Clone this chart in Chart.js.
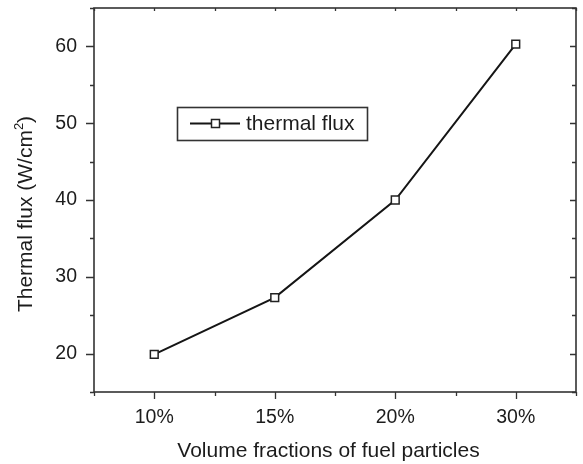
<!DOCTYPE html>
<html>
<head>
<meta charset="utf-8">
<script src="https://cdn.jsdelivr.net/npm/chart.js@4"></script>
<style>
html,body{margin:0;padding:0;background:#fff;}
#wrap{width:583px;height:464px;position:relative;}
</style>
</head>
<body>
<div id="wrap"><canvas id="c" width="583" height="464"></canvas></div>
<script>
const categories = ['10%', '15%', '20%', '30%'];
const thermalFlux = [19.9, 27.3, 40.0, 60.3];
const seriesLabel = 'thermal flux';
const xTitle = 'Volume fractions of fuel particles';
const yTitleMain = 'Thermal flux (W/cm';
const yTitleSup = '2';
const yTitleEnd = ')';
const yMin = 15, yMax = 65, yMinorStep = 5, yMajorStep = 10;

const INK = '#1c1c1c';
const AXIS = '#333333';
const FONT = 'Liberation Sans, Arial, sans-serif';

function zeroPad(s) { s.paddingTop = 0; s.paddingBottom = 0; s.paddingLeft = 0; s.paddingRight = 0; }

const framePlugin = {
  id: 'frame',
  afterDraw(chart) {
    const ctx = chart.ctx;
    const a = chart.chartArea;
    const xs = chart.scales.x, ys = chart.scales.y;
    ctx.save();
    ctx.strokeStyle = AXIS;
    ctx.lineWidth = 1.6;
    ctx.strokeRect(a.left, a.top, a.right - a.left, a.bottom - a.top);
    ctx.lineWidth = 1.3;
    ctx.beginPath();
    for (let v = yMin; v <= yMax + 1e-9; v += yMinorStep) {
      const py = Math.round(ys.getPixelForValue(v)) + 0.5;
      const major = Math.abs((v / yMajorStep) - Math.round(v / yMajorStep)) < 1e-9;
      const lo = major ? 8 : 4;
      const li = major ? 6 : 4;
      ctx.moveTo(a.left, py); ctx.lineTo(a.left - lo, py);
      ctx.moveTo(a.right, py); ctx.lineTo(a.right - li, py);
    }
    const n = categories.length;
    const half = (xs.getPixelForValue(1) - xs.getPixelForValue(0)) / 2;
    for (let i = 0; i < n; i++) {
      const px = Math.round(xs.getPixelForValue(i)) + 0.5;
      ctx.moveTo(px, a.bottom); ctx.lineTo(px, a.bottom + 7);
      ctx.moveTo(px, a.top); ctx.lineTo(px, a.top + 3);
    }
    for (let i = 0; i <= n; i++) {
      const px = Math.round(xs.getPixelForValue(0) - half + 2 * half * i) + 0.5;
      ctx.moveTo(px, a.bottom); ctx.lineTo(px, a.bottom + 4);
      ctx.moveTo(px, a.top); ctx.lineTo(px, a.top + 3);
    }
    ctx.stroke();

    ctx.fillStyle = INK;
    ctx.font = '21px ' + FONT;
    ctx.textBaseline = 'alphabetic';
    ctx.textAlign = 'center';
    ctx.fillText(xTitle, 328.5, 456.5);

    ctx.save();
    ctx.translate(32, 214);
    ctx.rotate(-Math.PI / 2);
    ctx.textAlign = 'left';
    ctx.font = '21px ' + FONT;
    const w1 = ctx.measureText(yTitleMain).width;
    ctx.font = '13px ' + FONT;
    const w2 = ctx.measureText(yTitleSup).width;
    ctx.font = '21px ' + FONT;
    const w3 = ctx.measureText(yTitleEnd).width;
    let x0 = -(w1 + w2 + w3) / 2;
    ctx.fillText(yTitleMain, x0, 0);
    ctx.font = '13px ' + FONT;
    ctx.fillText(yTitleSup, x0 + w1, -9);
    ctx.font = '21px ' + FONT;
    ctx.fillText(yTitleEnd, x0 + w1 + w2, 0);
    ctx.restore();

    const ds = chart.data.datasets[0];
    ctx.lineWidth = 1.6;
    ctx.strokeStyle = AXIS;
    ctx.strokeRect(177.5, 107.5, 190, 33);
    ctx.strokeStyle = ds.borderColor;
    ctx.lineWidth = ds.borderWidth;
    ctx.beginPath();
    ctx.moveTo(190, 123.5); ctx.lineTo(240, 123.5);
    ctx.stroke();
    ctx.fillStyle = '#fff';
    ctx.lineWidth = ds.pointBorderWidth;
    ctx.strokeStyle = ds.pointBorderColor;
    ctx.fillRect(211.5, 119.5, 8, 8);
    ctx.strokeRect(211.5, 119.5, 8, 8);
    ctx.fillStyle = INK;
    ctx.font = '21px ' + FONT;
    ctx.textAlign = 'left';
    ctx.textBaseline = 'middle';
    ctx.fillText(ds.label, 246, 124);
    ctx.restore();
  }
};

new Chart(document.getElementById('c'), {
  type: 'line',
  data: {
    labels: categories,
    datasets: [{
      label: seriesLabel,
      data: thermalFlux,
      borderColor: '#151515',
      borderWidth: 2,
      pointStyle: 'rect',
      pointRadius: 5.5,
      pointHoverRadius: 5.5,
      pointBackgroundColor: '#ffffff',
      pointBorderColor: '#222222',
      pointBorderWidth: 1.5,
      tension: 0,
      clip: false
    }]
  },
  options: {
    responsive: false,
    animation: false,
    events: [],
    layout: { padding: { left: 0, top: 8, right: 4, bottom: 0 } },
    plugins: { legend: { display: false }, tooltip: { enabled: false } },
    scales: {
      x: {
        type: 'category',
        offset: true,
        grid: { display: false, drawTicks: false },
        border: { display: false },
        ticks: { color: INK, font: { family: FONT, size: 19.5 }, padding: 14, maxRotation: 0 },
        afterFit(s) { s.height = 72; zeroPad(s); }
      },
      y: {
        type: 'linear',
        min: yMin, max: yMax,
        grid: { display: false, drawTicks: false },
        border: { display: false },
        ticks: {
          stepSize: yMajorStep,
          color: INK,
          font: { family: FONT, size: 19.5 },
          padding: 17,
          callback(v) { return (v % yMajorStep === 0) ? String(v) : ''; }
        },
        afterBuildTicks(s) {
          const t = [];
          for (let v = 20; v <= 60; v += yMajorStep) t.push({ value: v });
          s.ticks = t;
        },
        afterFit(s) { s.width = 94; zeroPad(s); }
      }
    }
  },
  plugins: [framePlugin]
});
</script>
</body>
</html>
